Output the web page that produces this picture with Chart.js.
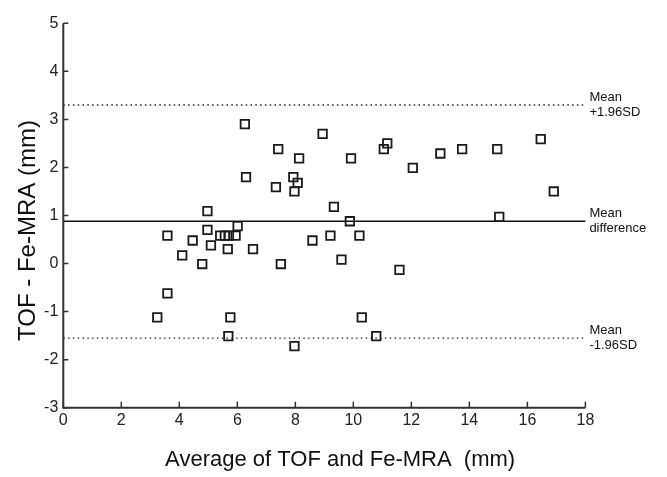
<!DOCTYPE html>
<html>
<head>
<meta charset="utf-8">
<script src="https://cdn.jsdelivr.net/npm/chart.js@4/dist/chart.umd.min.js"></script>
<style>
  html, body { margin: 0; padding: 0; background: #ffffff; }
  #wrap { width: 667px; height: 477px; position: relative; }
</style>
</head>
<body>
<div id="wrap"><canvas id="c"></canvas></div>
<script>
// ---- data ----
const averageValues = [
  6.26, 8.94, 7.41, 8.13, 6.30, 7.93, 8.08, 7.33, 7.97, 4.97,
  6.01, 4.97, 3.59, 5.41, 5.57, 5.71, 5.94, 4.46, 5.09, 8.59,
  5.67, 6.54, 4.10, 4.79, 7.50, 3.59, 3.24, 5.76, 5.69, 7.97,
  9.92, 11.17, 11.05, 12.05, 13.00, 13.75, 14.96, 16.46, 16.91, 15.03,
  9.33, 9.88, 9.21, 10.21, 9.59, 11.59, 10.29, 10.79
];
const differenceValues = [
  2.90, 2.70, 2.38, 2.19, 1.80, 1.80, 1.68, 1.59, 1.50, 1.09,
  0.78, 0.70, 0.58, 0.58, 0.58, 0.58, 0.58, 0.48, 0.38, 0.48,
  0.30, 0.30, 0.17, -0.01, -0.01, -0.62, -1.12, -1.12, -1.51, -1.72,
  2.19, 2.50, 2.38, 1.99, 2.29, 2.38, 2.38, 2.59, 1.50, 0.97,
  1.18, 0.88, 0.58, 0.58, 0.08, -0.13, -1.12, -1.51
];
const meanDifference = 0.88;
const upperLimit = 3.30;
const lowerLimit = -1.55;
const xTickValues = [0, 2, 4, 6, 8, 10, 12, 14, 16, 18];
const yTickValues = [-3, -2, -1, 0, 1, 2, 3, 4, 5];
const lineLabels = [
  { value: upperLimit, lines: ["Mean", "+1.96SD"] },
  { value: meanDifference, lines: ["Mean", "difference"] },
  { value: lowerLimit, lines: ["Mean", "-1.96SD"] }
];
const xTitle = "Average of TOF and Fe-MRA  (mm)";
const yTitle = "TOF - Fe-MRA (mm)";

// ---- build ----
const FONT = "'Liberation Sans', Arial, Helvetica, sans-serif";
const points = averageValues.map((x, i) => ({ x: x, y: differenceValues[i] }));
const xEnd = xTickValues[xTickValues.length - 1];
const hLine = (v) => [{ x: xTickValues[0], y: v }, { x: xEnd, y: v }];

const axisPlugin = {
  id: 'matlabAxes',
  afterDatasetsDraw(chart) {
    const ctx = chart.ctx;
    const xs = chart.scales.x, ys = chart.scales.y;
    const x0 = xs.getPixelForValue(xTickValues[0]);
    const x1 = xs.getPixelForValue(xEnd);
    const y0 = ys.getPixelForValue(yTickValues[0]);
    const y1 = ys.getPixelForValue(yTickValues[yTickValues.length - 1]);
    ctx.save();
    ctx.strokeStyle = '#333333';
    ctx.lineWidth = 2;
    ctx.beginPath();
    ctx.moveTo(x0, y1); ctx.lineTo(x0, y0); ctx.lineTo(x1, y0);
    ctx.stroke();
    ctx.lineWidth = 1.5;
    ctx.beginPath();
    yTickValues.forEach(v => { const p = ys.getPixelForValue(v); ctx.moveTo(x0, p); ctx.lineTo(x0 + 5, p); });
    xTickValues.forEach(v => { const p = xs.getPixelForValue(v); ctx.moveTo(p, y0); ctx.lineTo(p, y0 - 6); });
    ctx.stroke();
    // right-side labels
    ctx.fillStyle = '#111111';
    ctx.font = '13px ' + FONT;
    ctx.textAlign = 'left';
    ctx.textBaseline = 'middle';
    lineLabels.forEach(l => {
      const p = ys.getPixelForValue(l.value);
      ctx.fillText(l.lines[0], x1 + 4, p - 7.5);
      ctx.fillText(l.lines[1], x1 + 4, p + 7.5);
    });
    // y axis title (rotated), centred a little below the plot middle as in the reference
    ctx.font = '24px ' + FONT;
    ctx.textAlign = 'center';
    ctx.textBaseline = 'middle';
    ctx.translate(28, (y0 + y1) / 2 + 15);
    ctx.rotate(-Math.PI / 2);
    ctx.fillText(yTitle, 0, 0);
    ctx.restore();
  }
};

new Chart(document.getElementById('c'), {
  type: 'scatter',
  data: {
    datasets: [
      {
        label: 'Differences',
        data: points,
        pointStyle: 'rect',
        pointRadius: 6,
        pointBorderWidth: 1.8,
        borderColor: '#1a1a1a',
        backgroundColor: 'rgba(0,0,0,0)',
        showLine: false
      },
      {
        type: 'line', label: 'Mean difference', data: hLine(meanDifference),
        borderColor: '#111111', borderWidth: 1.6, pointRadius: 0, fill: false
      },
      {
        type: 'line', label: 'Mean +1.96SD', data: hLine(upperLimit),
        borderColor: '#222222', borderWidth: 1.3, borderDash: [1.5, 3.3], pointRadius: 0, fill: false
      },
      {
        type: 'line', label: 'Mean -1.96SD', data: hLine(lowerLimit),
        borderColor: '#222222', borderWidth: 1.3, borderDash: [1.5, 3.3], pointRadius: 0, fill: false
      }
    ]
  },
  options: {
    responsive: true,
    maintainAspectRatio: false,
    animation: false,
    layout: { padding: { left: 0, right: 50, top: 23.3, bottom: 0 } },
    plugins: { legend: { display: false }, tooltip: { enabled: false } },
    scales: {
      x: {
        type: 'linear',
        min: 0,
        max: 19.09,
        afterBuildTicks: (s) => { s.ticks = xTickValues.map(v => ({ value: v })); },
        afterFit: (s) => { s.height = 69.3; },
        grid: { display: false, drawTicks: false },
        border: { display: false },
        ticks: { padding: 3, color: '#222222', font: { family: FONT, size: 16 }, maxRotation: 0, autoSkip: false },
        title: { display: true, text: xTitle, color: '#111111', font: { family: FONT, size: 22 }, padding: { top: 0, bottom: 4 } }
      },
      y: {
        type: 'linear',
        min: -3,
        max: 5,
        afterBuildTicks: (s) => { s.ticks = yTickValues.map(v => ({ value: v })); },
        afterFit: (s) => { s.width = 63.3; },
        grid: { display: false, drawTicks: false },
        border: { display: false },
        ticks: { padding: 5, color: '#222222', font: { family: FONT, size: 16 }, autoSkip: false },
        title: { display: false, text: yTitle }
      }
    }
  },
  plugins: [axisPlugin]
});
</script>
</body>
</html>
